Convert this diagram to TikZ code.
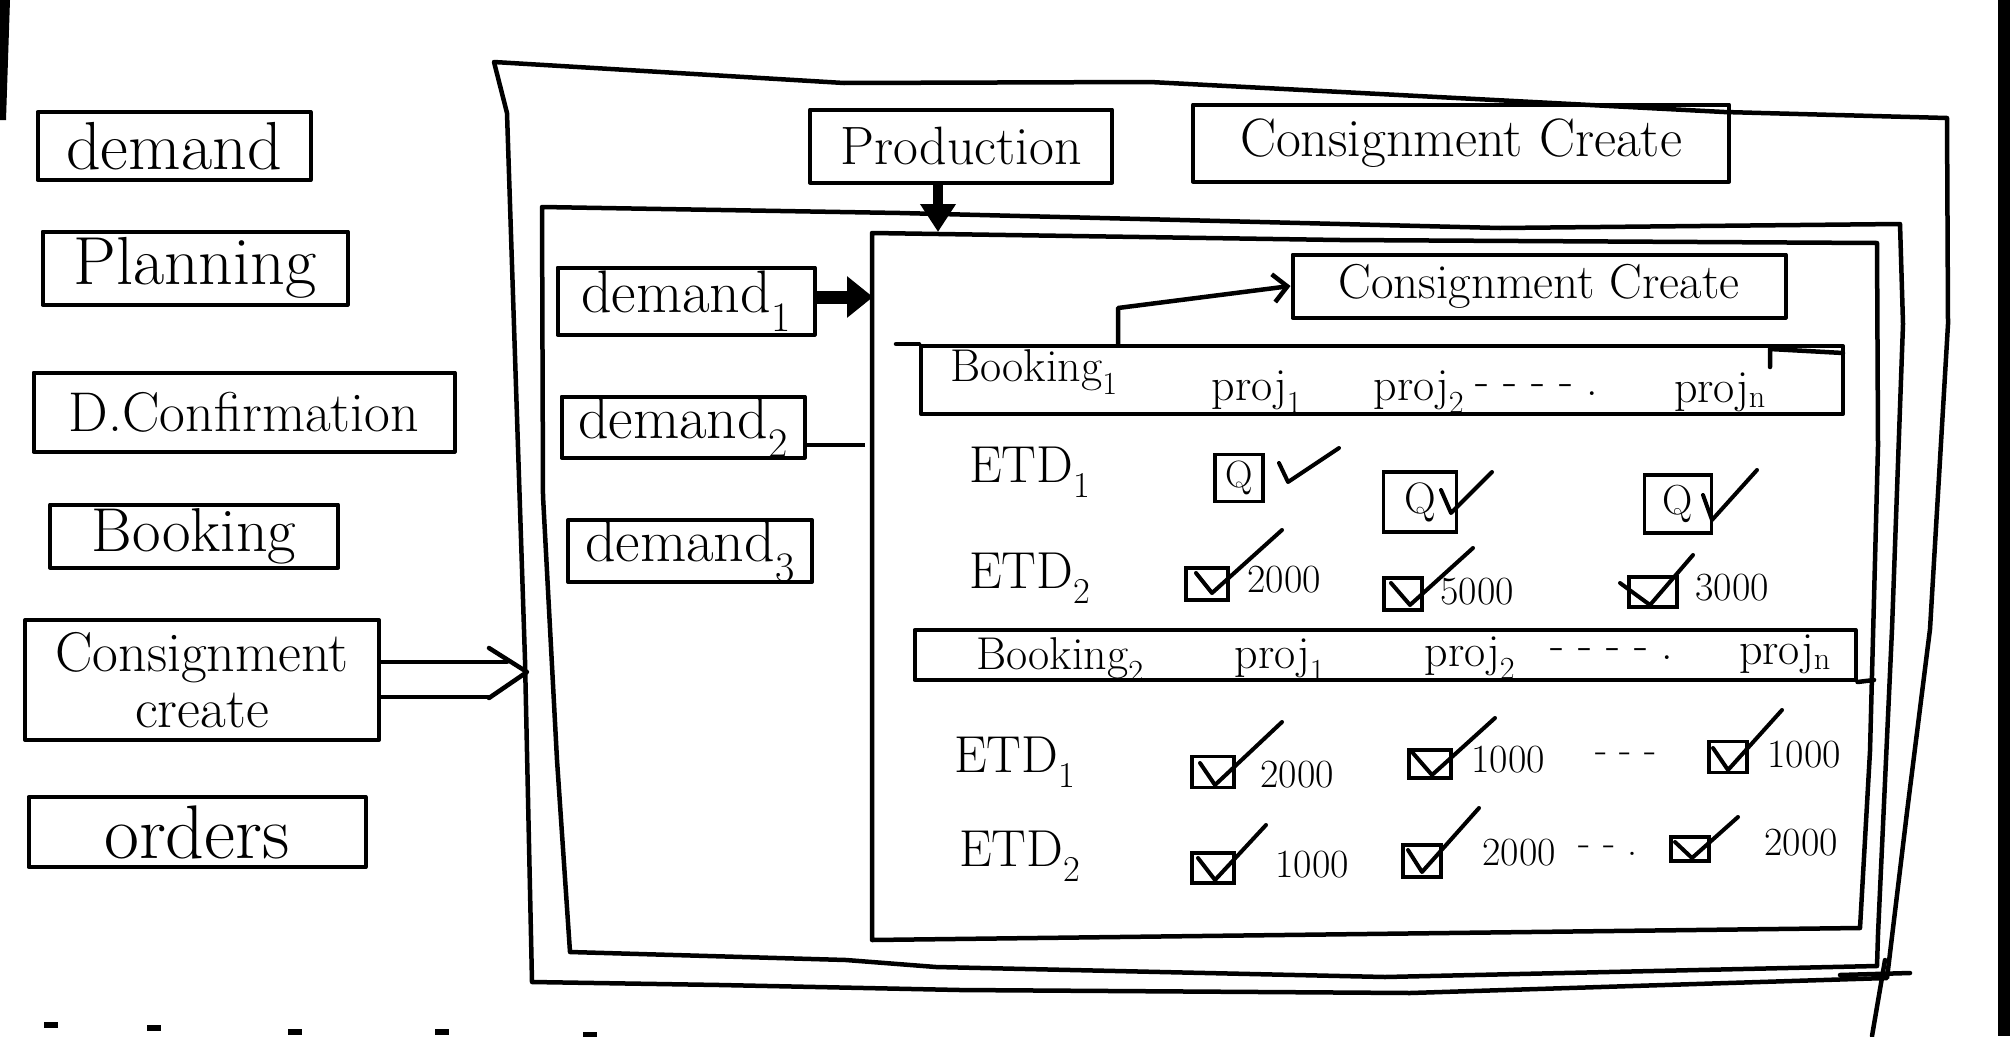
\documentclass[tikz,border=0pt]{standalone}
\usepackage{fontspec}
\usetikzlibrary{arrows.meta,calc}
\newcommand\myfs[1]{\fontsize{#1}{#1}\selectfont}
\begin{document}
\begin{tikzpicture}[x=1pt,y=-1pt,
  pen/.style={line width=4.5pt, line cap=round, line join=round},
  box/.style={draw, line width=4pt, line join=round, inner sep=0pt, align=center},
  txt/.style={inner sep=0pt},
  cbx/.style={draw, line width=3.5pt, inner sep=0pt},
  tk/.style={line width=4pt, line cap=round, line join=round},
]
\useasboundingbox (0,0) rectangle (2010,1036);
\fill[white] (0,0) rectangle (2010,1036);

% photo edge artefacts
\fill[black] (1998,0) rectangle (2010,1036);
\fill[black] (0,0) -- (10,0) -- (6,120) -- (0,120) -- cycle;
\foreach \x/\y in {51/1025,154/1028,295/1032,442/1032,590/1035}
  \fill[black] (\x-7,\y-3) rectangle (\x+7,\y+3);

% ---------- left column ----------
\node[box, minimum width=273pt, minimum height=68pt, font=\myfs{68}] (ldemand) at (174,146) {demand};
\node[box, minimum width=305pt, minimum height=73pt, font=\myfs{68}] (lplan) at (195,268) {Planning};
\node[box, minimum width=421pt, minimum height=79pt, font=\myfs{56}] (ldconf) at (244,412) {D.Confirmation};
\node[box, minimum width=288pt, minimum height=63pt, font=\myfs{62}] (lbook) at (194,536) {Booking};
\node[box, minimum width=354pt, minimum height=120pt, font=\myfs{56}] (lcc) at (202,680) {Consignment\\create};
\node[box, minimum width=337pt, minimum height=70pt, font=\myfs{76}] (lorders) at (197,832) {orders};

% ---------- frames ----------
\draw[pen] (494,62) -- (844,83) -- (1150,82) -- (1724,112) -- (1947,118) -- (1948,324)
  -- (1930,629) -- (1907,812) -- (1887,978) -- (1410,993) -- (960,990) -- (720,985)
  -- (532,982) -- (525,660) -- (507,113) -- cycle;
\draw[pen] (542,207) -- (900,213) -- (1500,228) -- (1900,224) -- (1903,324) -- (1892,629)
  -- (1878,934) -- (1877,966) -- (1385,977) -- (936,967) -- (846,960) -- (570,952)
  -- (557,760) -- (543,496) -- cycle;
\draw[pen] (872,233) -- (1340,240) -- (1877,243) -- (1878,446) -- (1870,751)
  -- (1860,928) -- (872,940) -- cycle;
\draw[pen] (1885,960) -- (1872,1036);
\draw[pen] (1840,975) -- (1910,973);

% ---------- top boxes ----------
\node[box, minimum width=302pt, minimum height=73pt, font=\myfs{54}] (prod) at (961,146) {Production};
\node[box, minimum width=536pt, minimum height=77pt, font=\myfs{54}] (cctop) at (1461,143) {Consignment Create};
\node[box, minimum width=493pt, minimum height=63pt, font=\myfs{49}] (ccin) at (1539,286) {Consignment Create};

% ---------- middle column ----------
\node[box, minimum width=257pt, minimum height=67pt, font=\myfs{60}] (md1) at (686,301) {demand\textsubscript{1}};
\node[box, minimum width=243pt, minimum height=61pt, font=\myfs{60}] (md2) at (683,427) {demand\textsubscript{2}};
\node[box, minimum width=244pt, minimum height=58pt, font=\myfs{60}] (md3) at (690,551) {demand\textsubscript{3}};

% ---------- connectors ----------
\coordinate (outL) at (527,672);
\draw[pen] ($(lcc.east|-outL)+(0,-10)$) -- ($(outL)+(-20,-10)$);
\draw[pen] ($(lcc.east|-outL)+(0,25)$) -- ($(outL)+(-38,25)$);
\draw[pen] ($(outL)+(-38,-24)$) -- (outL) -- ($(outL)+(-38,26)$);

\coordinate (prodT) at (938,232);
\draw[line width=10pt, -{Triangle[length=28pt,width=34pt]}] (prod.south -| prodT) -- (prodT);

\coordinate (md1T) at (873,297);
\draw[line width=13pt, -{Triangle[length=26pt,width=40pt]}] (md1.east |- md1T) -- (md1T);

\coordinate (md2E) at (865,445);
\draw[line width=3.5pt] (md2.east |- md2E) -- (md2E);

% ---------- booking 1 ----------
\node[box, minimum width=922pt, minimum height=68pt] (bk1) at (1382,380) {};
\draw[pen] (896,344) -- (bk1.north west);
\draw[pen] (1770,367) -- (1770,349) -- (1843,353);
\coordinate (bkel) at (1118,308);
\draw[pen, -{Straight Barb[length=14pt,width=28pt]}] (bk1.north -| bkel) -- (bkel) -- (ccin.west);

\node[txt, font=\myfs{46}] (bk1t) at (1034,372) {Booking\textsubscript{1}};
\node[txt, font=\myfs{46}] (p11) at (1257,392) {proj\textsubscript{1}};
\node[txt, font=\myfs{46}] (p12) at (1419,392) {proj\textsubscript{2}};
\node[txt, font=\myfs{46}] (p1d) at (1537,390) {- - - - .};
\node[txt, font=\myfs{46}] (p1n) at (1720,392) {proj\textsubscript{n}};

\node[txt, font=\myfs{52}] (e11) at (1030,472) {ETD\textsubscript{1}};
\node[txt, font=\myfs{52}] (e12) at (1030,578) {ETD\textsubscript{2}};

% ETD1 row
\node[cbx, minimum width=48pt, minimum height=47pt, font=\myfs{38}] (qa1) at (1239,478) {Q};
\draw[tk] (1279,463) -- (1288,482) -- (1339,448);
\node[cbx, minimum width=73pt, minimum height=60pt, font=\myfs{44}] (qa2) at (1420,502) {Q};
\draw[tk] (1441,490) -- (1451,513) -- (1492,472);
\node[cbx, minimum width=67pt, minimum height=58pt, font=\myfs{42}] (qa3) at (1678,504) {Q};
\draw[tk] (1703,495) -- (1712,520) -- (1757,470);

% ETD2 row
\node[cbx, minimum width=42pt, minimum height=32pt] (cb1) at (1207,584) {};
\draw[tk] (1196,573) -- (1212,593) -- (1282,530);
\node[txt, font=\myfs{40}] (n1) at (1284,580) {2000};
\node[cbx, minimum width=38pt, minimum height=32pt] (cb2) at (1403,594) {};
\draw[tk] (1391,583) -- (1410,605) -- (1473,548);
\node[txt, font=\myfs{40}] (n2) at (1477,592) {5000};
\node[cbx, minimum width=48pt, minimum height=30pt] (cb3) at (1653,592) {};
\draw[tk] (1620,583) -- (1650,605) -- (1693,555);
\node[txt, font=\myfs{40}] (n3) at (1732,588) {3000};

% ---------- booking 2 ----------
\node[box, minimum width=941pt, minimum height=50pt] (bk2) at (1385,655) {};
\draw[pen] (bk2.south east) -- (1874,680);

\node[txt, font=\myfs{46}] (bk2t) at (1060,660) {Booking\textsubscript{2}};
\node[txt, font=\myfs{46}] (p21) at (1280,660) {proj\textsubscript{1}};
\node[txt, font=\myfs{46}] (p22) at (1470,658) {proj\textsubscript{2}};
\node[txt, font=\myfs{46}] (p2d) at (1612,654) {- - - - .};
\node[txt, font=\myfs{46}] (p2n) at (1785,654) {proj\textsubscript{n}};

\node[txt, font=\myfs{52}] (e21) at (1015,762) {ETD\textsubscript{1}};
\node[txt, font=\myfs{52}] (e22) at (1020,856) {ETD\textsubscript{2}};

% ETD1 row
\node[cbx, minimum width=42pt, minimum height=31pt] (cc1) at (1213,772) {};
\draw[tk] (1200,763) -- (1215,785) -- (1282,722);
\node[txt, font=\myfs{40}] (m1) at (1297,775) {2000};
\node[cbx, minimum width=42pt, minimum height=28pt] (cc2) at (1430,764) {};
\draw[tk] (1412,752) -- (1432,775) -- (1495,718);
\node[txt, font=\myfs{40}] (m2) at (1508,760) {1000};
\node[txt, font=\myfs{40}] (m2d) at (1626,758) {- - -};
\node[cbx, minimum width=38pt, minimum height=31pt] (cc3) at (1728,757) {};
\draw[tk] (1713,748) -- (1728,770) -- (1782,710);
\node[txt, font=\myfs{40}] (m3) at (1804,755) {1000};

% ETD2 row
\node[cbx, minimum width=42pt, minimum height=30pt] (cd1) at (1213,868) {};
\draw[tk] (1198,858) -- (1215,880) -- (1266,825);
\node[txt, font=\myfs{40}] (k1) at (1312,865) {1000};
\node[cbx, minimum width=38pt, minimum height=32pt] (cd2) at (1422,861) {};
\draw[tk] (1408,850) -- (1422,872) -- (1479,808);
\node[txt, font=\myfs{40}] (k2) at (1519,853) {2000};
\node[txt, font=\myfs{40}] (k2d) at (1608,851) {- - .};
\node[cbx, minimum width=38pt, minimum height=24pt] (cd3) at (1690,849) {};
\draw[tk] (1675,842) -- (1692,858) -- (1738,817);
\node[txt, font=\myfs{40}] (k3) at (1801,843) {2000};

\end{tikzpicture}
\end{document}
